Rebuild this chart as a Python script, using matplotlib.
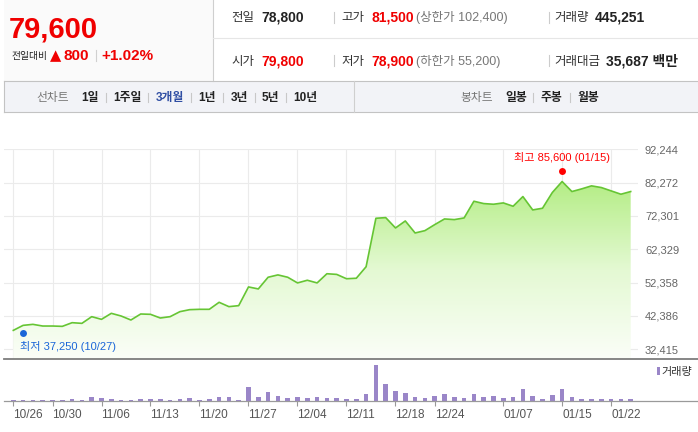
import matplotlib
matplotlib.use('Agg')
import matplotlib.pyplot as plt
import numpy as np
from matplotlib.patches import Rectangle, Polygon
from matplotlib.lines import Line2D
from matplotlib.colors import LinearSegmentedColormap
from matplotlib.ticker import FuncFormatter

FAM = ['Liberation Sans', 'Noto Sans CJK KR', 'DejaVu Sans']
plt.rcParams['font.family'] = FAM

# ---------------- data ----------------
dates = ['10/26', '10/27', '10/28', '10/29', '10/30',
         '11/02', '11/03', '11/04', '11/05', '11/06',
         '11/09', '11/10', '11/11', '11/12', '11/13',
         '11/16', '11/17', '11/18', '11/19', '11/20',
         '11/23', '11/24', '11/25', '11/26', '11/27',
         '11/30', '12/01', '12/02', '12/03', '12/04',
         '12/07', '12/08', '12/09', '12/10', '12/11',
         '12/14', '12/15', '12/16', '12/17', '12/18',
         '12/21', '12/22', '12/23', '12/24',
         '12/28', '12/29', '12/30',
         '01/04', '01/05', '01/06', '01/07', '01/08',
         '01/11', '01/12', '01/13', '01/14', '01/15',
         '01/18', '01/19', '01/20', '01/21', '01/22',
         '01/25', '01/26']

closes = [38050, 39550, 39850, 39350, 39350, 39250, 40350, 40150, 42150, 41350,
          43150, 42350, 41150, 42950, 42850, 41750, 42150, 43650, 44250, 44350,
          44350, 46450, 45150, 45450, 51050, 50450, 53950, 54650, 53950, 52250,
          53050, 52250, 55000, 54800, 53500, 53650, 57100, 71600, 71800, 68700,
          70800, 67200, 67900, 69700, 71400, 71200, 71700, 76700, 76000, 75800,
          76200, 75200, 78100, 74100, 74600, 79300, 82600, 79600, 80400, 81300,
          80800, 79800, 78800, 79600]

volumes = [230, 240, 250, 235, 245, 260, 450, 250, 900, 680,
           460, 240, 250, 450, 460, 440, 250, 450, 680, 250,
           460, 900, 890, 240, 3120, 900, 2000, 1110, 680, 890,
           670, 900, 680, 640, 480, 500, 1560, 8010, 3780, 2230,
           1780, 890, 670, 1110, 1560, 890, 670, 1560, 890, 1110,
           670, 890, 2670, 1110, 450, 1340, 2670, 890, 450, 450,
           450, 450, 450, 445]  # thousand shares

tick_labels = ['10/26', '10/30', '11/06', '11/13', '11/20', '11/27', '12/04',
               '12/11', '12/18', '12/24', '01/07', '01/15', '01/22']
y_ticks = [32415, 42386, 52358, 62329, 72301, 82272, 92244]
y_bottom = 29480

low_date, low_price = '10/27', 37250
high_date, high_price = '01/15', 85600

price_now = '79,600'
change_abs = '800'
change_pct = '+1.02%'
prev_close = '78,800'
open_price = '79,800'
high_day = '81,500'
low_day = '78,900'
upper_limit = '102,400'
lower_limit = '55,200'
volume_today = '445,251'
turnover = '35,687'

period_items = ['1일', '1주일', '3개월', '1년', '3년', '5년', '10년']
candle_items = ['일봉', '주봉', '월봉']

# ---------------- figure ----------------
W, H = 698, 432
fig = plt.figure(figsize=(W / 100, H / 100), dpi=100)
fig.patch.set_facecolor('white')


def fx(x):
    return x / W


def fy(y):
    return 1 - y / H


def rect(x0, y0, x1, y1, **kw):
    fig.patches.append(Rectangle((fx(x0), fy(y1)), fx(x1) - fx(x0), fy(y0) - fy(y1),
                                 transform=fig.transFigure, **kw))


def hline(y, x0, x1, **kw):
    fig.add_artist(Line2D([fx(x0), fx(x1)], [fy(y), fy(y)], transform=fig.transFigure, **kw))


def vline(x, y0, y1, **kw):
    fig.add_artist(Line2D([fx(x), fx(x)], [fy(y0), fy(y1)], transform=fig.transFigure, **kw))


def txt(x, y, s, size, color='#333333', weight='normal', ha='left'):
    # y is the visual centre line of the text (in px from the top)
    base = y + 0.36 * size / 0.72
    fig.text(fx(x), fy(base), s, fontsize=size, color=color, fontweight=weight,
             ha=ha, va='baseline')


RED = '#f00000'
DARK = '#222222'
GRAY = '#777777'

# header boxes
rect(4, 0, 212.5, 81, facecolor='#fafafa', edgecolor='none')
vline(212.5, 0, 81, color='#cfcfcf', lw=0.8)
hline(38.3, 213, 698, color='#e6e6e6', lw=0.8)

# toolbar
rect(4, 81, 698, 112, facecolor='#f2f3f7', edgecolor='none')
hline(81, 4, 698, color='#c3c3c3', lw=0.8)
hline(112, 4, 698, color='#c3c3c3', lw=0.8)
vline(4, 81, 112, color='#c3c3c3', lw=0.8)
vline(354.3, 81, 112, color='#cfcfcf', lw=0.8)

# header left
txt(9, 27.5, price_now, 21, color=RED, weight='bold')
txt(11, 55, '전일대비', 7, color=DARK)
fig.text(fx(49.5), fy(60.5), '▲', fontsize=10.5, color=RED, ha='left', va='baseline',
         family=['DejaVu Sans'])
txt(63.5, 55, change_abs, 11, color=RED, weight='bold')
vline(96, 49.5, 60.5, color='#d0d0d0', lw=0.8)
txt(101.5, 55, change_pct, 11, color=RED, weight='bold')

# header right
for y, lab, val, col in [(17, '전일', prev_close, DARK), (60, '시가', open_price, RED)]:
    txt(231, y, lab, 9, color='#333333')
    txt(261, y, val, 10, color=col, weight='bold')
for y, lab, val, lim_lab, lim in [(17, '고가', high_day, '상한가', upper_limit),
                                   (60, '저가', low_day, '하한가', lower_limit)]:
    vline(334.3, y - 5.5, y + 5.5, color='#cccccc', lw=0.8)
    txt(341, y, lab, 9, color='#333333')
    txt(371, y, val, 10, color=RED, weight='bold')
    txt(416.5, y, '(' + lim_lab + ' ' + lim + ')', 9, color=GRAY)
for y in (17, 60):
    vline(549, y - 5.5, y + 5.5, color='#cccccc', lw=0.8)
txt(554.5, 17, '거래량', 9, color='#333333')
txt(595, 17, volume_today, 10, color=DARK, weight='bold')
txt(554.5, 60, '거래대금', 9, color='#333333')
txt(605.5, 60, turnover + ' 백만', 10, color=DARK, weight='bold')

# toolbar text
txt(36.5, 97, '선차트', 8.5, color='#777777')
px = [81.5, 113.5, 155.5, 198.5, 230.5, 262, 293.5]
for i, (p, s) in enumerate(zip(px, period_items)):
    col = '#2f4ea3' if s == '3개월' else DARK
    txt(p, 97, s, 8.5, color=col, weight='bold')
    if i > 0:
        vline(p - 7.5, 92.5, 101.5, color='#c8c8c8', lw=0.8)
txt(460, 97, '봉차트', 8.5, color='#777777')
cx = [505, 540.5, 577]
for i, (p, s) in enumerate(zip(cx, candle_items)):
    txt(p, 97, s, 8.5, color=DARK, weight='bold')
    if i > 0:
        vline(p - 7.5, 92.5, 101.5, color='#c8c8c8', lw=0.8)

# ---------------- price panel ----------------
n = len(closes)
x = np.arange(n)
xlim = (-0.949, n - 1 + 0.745)

ax = fig.add_axes([fx(4), fy(359), fx(638) - fx(4), fy(149.3) - fy(359)])
verts = [(x[0], y_bottom)] + list(zip(x, closes)) + [(x[-1], y_bottom)]
poly = Polygon(verts, closed=True, facecolor='none', edgecolor='none')
ax.add_patch(poly)
cmap = LinearSegmentedColormap.from_list('g', ['#fbfef8', '#e4f9d3', '#b4ed85'])
grad = np.linspace(0, 1, 256).reshape(-1, 1)
im = ax.imshow(grad, extent=[x[0], x[-1], y_bottom, max(closes)], origin='lower',
               cmap=cmap, aspect='auto', zorder=1)
im.set_clip_path(poly)
ax.plot(x, closes, color='#66c534', lw=1.2, zorder=3)

i_low = dates.index(low_date)
i_high = dates.index(high_date)
ax.plot(i_low, low_price, 'o', color='#1a66d8', ms=5, mec='none', zorder=4)
ax.plot(i_high, high_price, 'o', color='#ff0000', ms=5, mec='none', zorder=4)
ax.annotate('최저 {:,} ({})'.format(low_price, low_date), (i_low, low_price),
            xytext=(-2, -9.5), textcoords='offset points', ha='left', va='center',
            fontsize=8, color='#1a66d8')
ax.annotate('최고 {:,} ({})'.format(high_price, high_date), (i_high, high_price),
            xytext=(0, 10), textcoords='offset points', ha='center', va='center',
            fontsize=8, color='#ff0000')

tick_pos = [dates.index(t) for t in tick_labels]
ax.set_xlim(*xlim)
ax.set_ylim(y_bottom, y_ticks[-1])
ax.set_xticks(tick_pos)
ax.set_yticks(y_ticks)
ax.grid(True, color='#ebebeb', lw=0.8, zorder=0)
ax.set_axisbelow(True)
ax.tick_params(axis='x', length=0, labelbottom=False)
ax.yaxis.tick_right()
ax.tick_params(axis='y', length=0, pad=5, labelsize=8, labelcolor='#666666')
ax.yaxis.set_major_formatter(FuncFormatter(lambda v, p: '{:,}'.format(int(round(v)))))
for s in ax.spines.values():
    s.set_visible(False)
ax.patch.set_alpha(0)

# ---------------- volume panel ----------------
vx = fig.add_axes([fx(4), fy(401), fx(638) - fx(4), fy(362) - fy(401)])
vx.bar(x, volumes, width=0.48, color='#9a86c8', zorder=2)
vx.set_xlim(*xlim)
vx.set_ylim(0, max(volumes) * 39 / 36)
vx.set_yticks([])
vx.set_xticks(tick_pos)
vx.set_xticklabels(tick_labels)
for lbl in vx.get_xticklabels():
    lbl.set_ha('left')
vx.tick_params(axis='x', length=3.6, width=0.8, color='#999999', pad=2.5,
               labelsize=8.5, labelcolor='#555555')
for s in vx.spines.values():
    s.set_visible(False)
vx.patch.set_alpha(0)

hline(359, 4, 698, color='#7d7d7d', lw=1.3)
hline(401, 4, 698, color='#9a9a9a', lw=0.9)

# volume legend
rect(656.7, 367.3, 659.5, 374.5, facecolor='#9a86c8', edgecolor='none')
txt(661, 371, '거래량', 8, color='#333333')

fig.savefig('out.png', dpi=100)
